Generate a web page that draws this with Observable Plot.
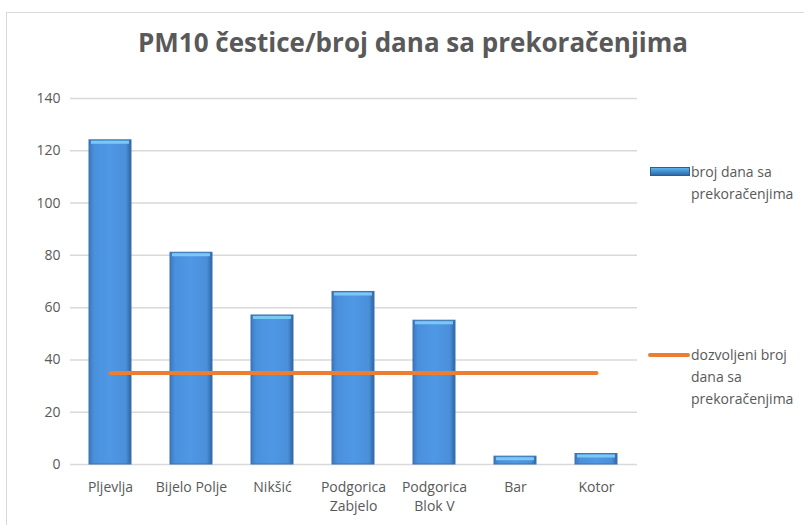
<!DOCTYPE html>
<html><head><meta charset="utf-8">
<script src="https://cdn.jsdelivr.net/npm/d3@7"></script>
<script src="https://cdn.jsdelivr.net/npm/@observablehq/plot@0.6"></script>
<style>
body{margin:0;background:#fff;font-family:"Open Sans",sans-serif;}
#wrap{position:relative;width:804px;height:525px;overflow:hidden;}
#frame{position:absolute;left:6px;top:12px;width:820px;height:540px;border:1.5px solid #d9d9d9;}
#title{position:absolute;left:0;top:24px;width:826px;text-align:center;font-size:26px;font-weight:700;color:#595959;font-family:"Open Sans",sans-serif;}
#chart{position:absolute;left:0;top:70px;}
.leg{position:absolute;font-size:14px;color:#595959;line-height:22px;}
</style></head>
<body><div id="wrap"><div id="frame"></div><div id="title">PM10 čestice/broj dana sa prekoračenjima</div><div id="chart"></div>
<div class="leg" style="left:650px;top:167px;width:40px;height:9px;background:linear-gradient(#5ab4f0,#2f6aa8);border:1px solid #2a5f96;box-sizing:border-box"></div>
<div class="leg" style="left:691px;top:161px;">broj dana sa<br>prekoračenjima</div>
<div class="leg" style="left:648px;top:353px;width:42px;height:4px;background:#ed7d31;border-radius:2px"></div>
<div class="leg" style="left:691px;top:344px;">dozvoljeni broj<br>dana sa<br>prekoračenjima</div>
</div>
<script>
const cities = ["Pljevlja","Bijelo Polje","Nikšić","Podgorica\nZabjelo","Podgorica\nBlok V","Bar","Kotor"];
const days = [124, 81, 57, 66, 55, 3, 4];
const limit = [35, 35, 35, 35, 35, 35, 35];
const yTicks = [0, 20, 40, 60, 80, 100, 120, 140];

const data = cities.map((c, i) => ({city: c, days: days[i], limit: limit[i]}));

const plot = Plot.plot({
  width: 804, height: 450,
  marginLeft: 70, marginRight: 167, marginTop: 28, marginBottom: 56,
  style: {fontFamily: "Open Sans, sans-serif", fontSize: "14px", color: "#595959", background: "transparent"},
  x: {domain: cities, paddingInner: 0.48, paddingOuter: 0.24, label: null},
  y: {domain: [0, 140], ticks: yTicks, label: null},
  marks: [
    Plot.ruleY(yTicks, {stroke: "#d9d9d9", strokeWidth: 1.5}),
    Plot.barY(data, {x: "city", y: "days", fill: "url(#barGrad)", stroke: "#3a73b0", strokeWidth: 1}),
    Plot.tickY(data, {x: "city", y: "days", stroke: "#7cc8f5", strokeWidth: 3, dy: 2, inset: 2}),
    Plot.lineY(data, {x: "city", y: "limit", stroke: "#ed7d31", strokeWidth: 4}),
    Plot.axisX({tickSize: 0, tickPadding: 15, fontSize: 14, lineHeight: 1.3}),
    Plot.axisY(yTicks, {tickSize: 0, tickPadding: 10, fontSize: 14})
  ]
});
const ns = "http://www.w3.org/2000/svg";
const defs = document.createElementNS(ns, "defs");
defs.innerHTML = `<linearGradient id="barGrad" x1="0" x2="1" y1="0" y2="0">
<stop offset="0" stop-color="#3b78c0"/><stop offset="0.12" stop-color="#4a90dc"/>
<stop offset="0.5" stop-color="#4f98e6"/><stop offset="0.88" stop-color="#4a8fd9"/>
<stop offset="1" stop-color="#2e64a3"/></linearGradient>`;
plot.insertBefore(defs, plot.firstChild);
document.getElementById("chart").appendChild(plot);
</script></body></html>
